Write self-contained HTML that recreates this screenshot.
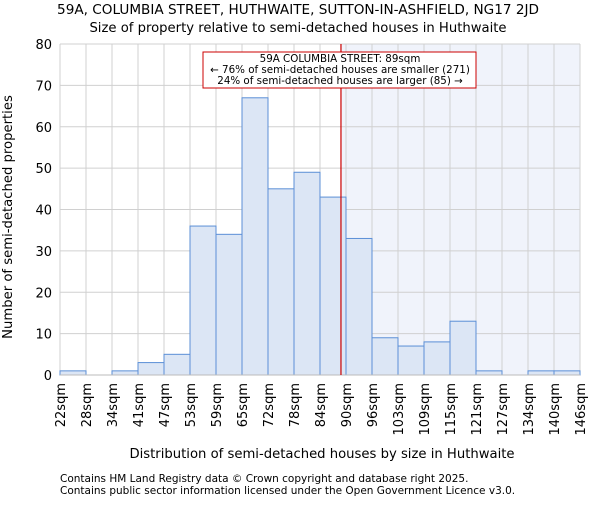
<!DOCTYPE html>
<html><head><meta charset="utf-8"><style>
body{margin:0;background:#fff;}
svg{font-family:"DejaVu Sans","Liberation Sans",sans-serif;}
</style></head><body>
<svg id="chart" width="600" height="500" xmlns="http://www.w3.org/2000/svg">
<text x="298" y="14" text-anchor="middle" font-size="13.6">59A, COLUMBIA STREET, HUTHWAITE, SUTTON-IN-ASHFIELD, NG17 2JD</text>
<text x="298" y="32" text-anchor="middle" font-size="13.2">Size of property relative to semi-detached houses in Huthwaite</text>
<g id="plot"></g>
<text x="322" y="458" text-anchor="middle" font-size="13.2">Distribution of semi-detached houses by size in Huthwaite</text>
<text transform="translate(12,217) rotate(-90)" text-anchor="middle" font-size="13.2">Number of semi-detached properties</text>
<text x="60" y="482" font-size="10.5">Contains HM Land Registry data © Crown copyright and database right 2025.</text>
<text x="60" y="494" font-size="10.5">Contains public sector information licensed under the Open Government Licence v3.0.</text>
</svg>
<script>
const labels=["22sqm","28sqm","34sqm","41sqm","47sqm","53sqm","59sqm","65sqm","72sqm","78sqm","84sqm","90sqm","96sqm","103sqm","109sqm","115sqm","121sqm","127sqm","134sqm","140sqm","146sqm"];
const counts=[1,0,1,3,5,36,34,67,45,49,43,33,9,7,8,13,1,0,1,1];
const yTicks=[0,10,20,30,40,50,60,70,80];
const propertySize=89;
const minSize=22, maxSize=146;
const X0=60,X1=580,Y0=375,Y1=44,YMAX=80;
const n=counts.length;
const xi=i=>X0+(X1-X0)*i/n;
const xs=v=>X0+(X1-X0)*(v-minSize)/(maxSize-minSize);
const y=v=>Y0-(Y0-Y1)*v/YMAX;
const NS="http://www.w3.org/2000/svg";
const g=document.getElementById('plot');
function mk(t,a){const e=document.createElementNS(NS,t);for(const k in a)e.setAttribute(k,a[k]);g.appendChild(e);return e;}
const lx=xs(propertySize);
let e=mk('rect',{x:lx,y:Y1,width:X1-lx,height:Y0-Y1,fill:'#f0f3fb'});


yTicks.forEach(t=>{
 let l=mk('line',{x1:X0,x2:X1,y1:y(t),y2:y(t),stroke:'#d0d0d0','stroke-width':1});
 
 
 let tx=mk('text',{x:X0-8,y:y(t)+5,'text-anchor':'end','font-size':13});
 tx.textContent=t;
 
 
});
labels.forEach((lb,i)=>{
 let l=mk('line',{x1:xi(i),x2:xi(i),y1:Y1,y2:Y0,stroke:'#d0d0d0','stroke-width':1});
 
 
 let tx=mk('text',{transform:`translate(${xi(i)+5},${Y0+8}) rotate(-90)`,'text-anchor':'end','font-size':13});
 tx.textContent=lb;
 
 
});
counts.forEach((c,i)=>{
 let r=mk('rect',{x:xi(i),y:y(c),width:xi(i+1)-xi(i),height:Y0-y(c),fill:'#dce6f5',stroke:'#5b8fd6','stroke-width':1});
 
 
});
let ax=mk('line',{x1:X0,x2:X1,y1:Y0,y2:Y0,stroke:'#bbb'});


let rl=mk('line',{x1:lx,x2:lx,y1:Y1,y2:Y0,stroke:'#cc0000','stroke-width':1.2});


let box=mk('rect',{x:203,y:52,width:273,height:36,fill:'#fff',stroke:'#cc0000','stroke-width':1});


["59A COLUMBIA STREET: 89sqm","← 76% of semi-detached houses are smaller (271)","24% of semi-detached houses are larger (85) →"].forEach((s,i)=>{
 let t=mk('text',{x:340,y:62+i*11,'text-anchor':'middle','font-size':10.3});
 t.textContent=s;
 
 
});
</script>
</body></html>
